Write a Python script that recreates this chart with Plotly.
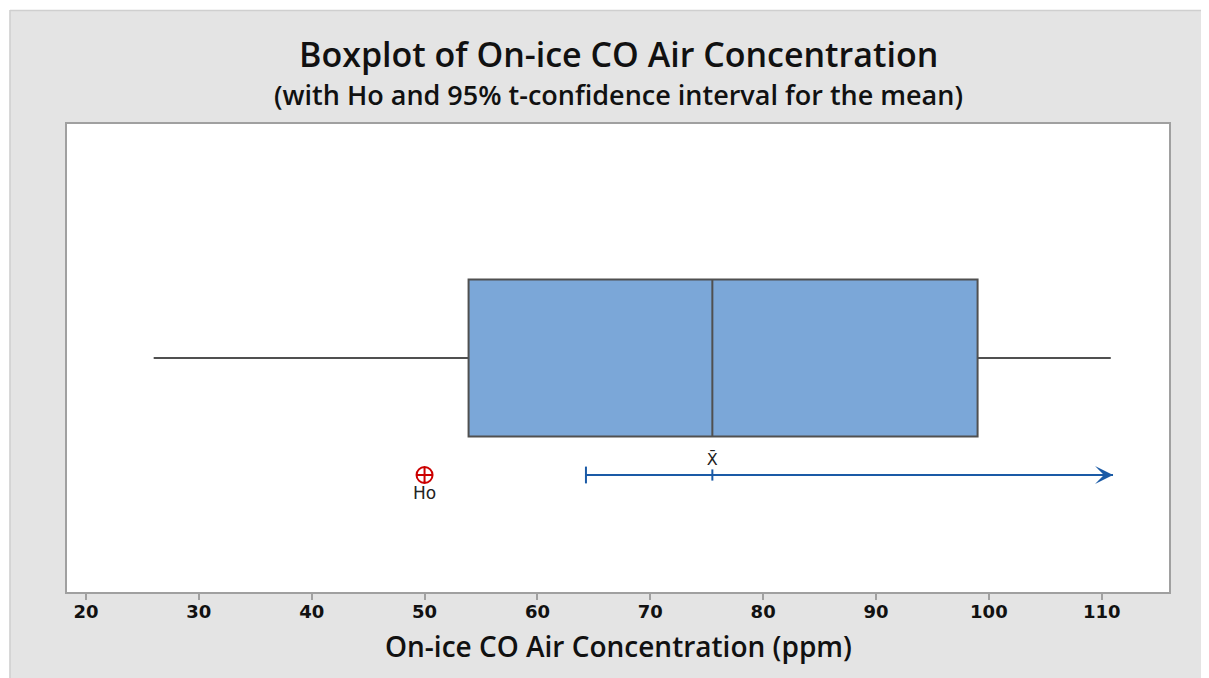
import plotly.graph_objects as go

# ---- data ----
q1 = [53.9]
median = [75.5]
q3 = [99.0]
lower_whisker = [26.0]
upper_whisker = [110.8]
ci_lower = [64.3]
ci_mean = [75.5]
ci_upper = [111.0]
h0 = [50.0]
x_ticks = [20, 30, 40, 50, 60, 70, 80, 90, 100, 110]

title = "Boxplot of On-ice CO Air Concentration"
subtitle = "(with Ho and 95% t-confidence interval for the mean)"
x_title = "On-ice CO Air Concentration (ppm)"

FONT = "Open Sans"
TICKFONT = "DejaVu Sans"
BLUE = "#1a5aa6"
OFF = 8  # page body margin

W, H = 1216, 670
L, R, T, B = 59, 55, 116, 86
PW, PH = W - L - R, H - T - B


def px_x(p):  # figure pixel -> paper x
    return (p - L) / PW


def px_y(p):  # figure pixel -> paper y
    return (H - B - p) / PH


def sy(p):  # screen pixel -> paper y
    return px_y(p - OFF)


fig = go.Figure()

fig.add_trace(go.Box(
    y=[0.5], q1=q1, median=median, q3=q3,
    lowerfence=lower_whisker, upperfence=upper_whisker,
    orientation="h", width=0.336, whiskerwidth=0,
    fillcolor="#7ba7d8", line=dict(color="#505050", width=2),
    boxpoints=False, hoverinfo="skip", showlegend=False,
))

# CI line
fig.add_trace(go.Scatter(
    x=[ci_lower[0], ci_upper[0]], y=[0.25, 0.25], mode="lines",
    line=dict(color=BLUE, width=2), hoverinfo="skip", showlegend=False,
))
fig.add_trace(go.Scatter(
    x=ci_lower, y=[0.25], mode="markers",
    marker=dict(symbol="line-ns", size=12, line=dict(color=BLUE, width=2)),
    hoverinfo="skip", showlegend=False,
))
fig.add_trace(go.Scatter(
    x=ci_mean, y=[0.25], mode="markers+text",
    marker=dict(symbol="line-ns", size=8, line=dict(color=BLUE, width=2)),
    text=["X\u0304"], textposition="top center",
    textfont=dict(family="DejaVu Sans", size=16, color="#222222"),
    hoverinfo="skip", showlegend=False,
))
fig.add_annotation(
    x=ci_upper[0], y=0.25, ax=ci_upper[0] - 3, ay=0.25, axref="x", ayref="y",
    xref="x", yref="y", text="", showarrow=True, arrowhead=3, arrowsize=1.5,
    arrowwidth=2, arrowcolor=BLUE, standoff=0,
)
# Ho
fig.add_trace(go.Scatter(
    x=h0, y=[0.25], mode="markers+text",
    marker=dict(symbol="circle-cross-open", size=16, color="#cc0000",
                line=dict(color="#cc0000", width=2)),
    text=["Ho"], textposition="bottom center",
    textfont=dict(family="DejaVu Sans", size=17, color="#222222"),
    hoverinfo="skip", showlegend=False,
))

# outer white strips and border
fig.add_shape(type="rect", xref="paper", yref="paper",
              x0=px_x(0), x1=px_x(W), y0=px_y(0), y1=px_y(2),
              fillcolor="white", line_width=0, layer="below")
fig.add_shape(type="rect", xref="paper", yref="paper",
              x0=px_x(0), x1=px_x(1.5), y0=px_y(0), y1=px_y(H),
              fillcolor="white", line_width=0, layer="below")
fig.add_shape(type="line", xref="paper", yref="paper",
              x0=px_x(2), x1=px_x(W), y0=px_y(2.5), y1=px_y(2.5),
              line=dict(color="#cfcfcf", width=1.5), layer="below")
fig.add_shape(type="line", xref="paper", yref="paper",
              x0=px_x(2), x1=px_x(2), y0=px_y(2), y1=px_y(H),
              line=dict(color="#cfcfcf", width=1.5), layer="below")

fig.add_annotation(text=title, xref="paper", yref="paper", x=0.5, y=sy(54),
                   xanchor="center", yanchor="middle", showarrow=False, borderpad=0,
                   font=dict(family=FONT, size=34, color="#111111", weight=600))
fig.add_annotation(text=subtitle, xref="paper", yref="paper", x=0.5, y=sy(94),
                   xanchor="center", yanchor="middle", showarrow=False, borderpad=0,
                   font=dict(family=FONT, size=27, color="#111111", weight=600))
fig.add_annotation(text=x_title, xref="paper", yref="paper", x=0.5, y=sy(646),
                   xanchor="center", yanchor="middle", showarrow=False,
                   font=dict(family=FONT, size=28, color="#111111", weight=600))

fig.update_layout(
    width=W, height=H,
    margin=dict(l=L, r=R, t=T, b=B),
    paper_bgcolor="#e4e4e4", plot_bgcolor="white",
    xaxis=dict(
        range=[18.32, 115.96], tickvals=x_ticks, ticktext=[str(t) for t in x_ticks],
        showgrid=False, zeroline=False, showline=True, mirror=True,
        linecolor="#a0a0a0", linewidth=2, ticks="outside", ticklen=6,
        tickcolor="#a0a0a0", tickwidth=2, ticklabelstandoff=-4,
        tickfont=dict(family=TICKFONT, size=18, color="#111111", weight="bold"),
        fixedrange=True,
    ),
    yaxis=dict(
        range=[0, 1], showgrid=False, zeroline=False, showticklabels=False,
        showline=True, mirror=True, linecolor="#a0a0a0", linewidth=2,
        ticks="", fixedrange=True,
    ),
)

fig.write_html(
    "out.html",
    post_script="document.body.style.overflow='hidden';",
)
